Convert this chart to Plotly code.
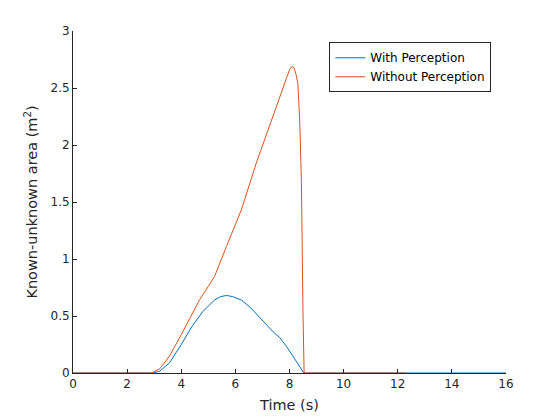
import plotly.graph_objects as go

# ==================== 데이터 ====================
time_with = [0, 2.95, 3.2, 3.57, 4.0, 4.4, 4.8, 5.23, 5.45, 5.67, 5.9, 6.22, 6.53, 6.85, 7.14, 7.4, 7.64, 7.9, 8.13, 8.35, 8.53, 16]
area_with = [0, 0, 0.015, 0.09, 0.25, 0.41, 0.54, 0.64, 0.67, 0.68, 0.67, 0.64, 0.58, 0.5, 0.42, 0.36, 0.31, 0.23, 0.146, 0.07, 0, 0]

time_without = [0, 2.89, 3.2, 3.57, 4.0, 4.35, 4.68, 5.0, 5.23, 5.67, 6.22, 6.77, 7.39, 7.88, 8.0, 8.09, 8.16, 8.23, 8.31, 8.38, 8.44, 8.5, 8.54, 12.3]
area_without = [0, 0, 0.035, 0.15, 0.336, 0.49, 0.643, 0.76, 0.847, 1.11, 1.43, 1.84, 2.25, 2.59, 2.66, 2.69, 2.68, 2.63, 2.54, 2.2, 1.67, 0.5, 0, 0]

COLORS = {'BLUE': '#0072BD', 'ORANGE': '#D95319', 'AXIS': '#262626'}
FONT = 'DejaVu Sans'

# ==================== 차트 ====================
fig = go.Figure()
fig.add_trace(go.Scatter(x=time_with, y=area_with, mode='lines', name='With Perception',
                         line=dict(color=COLORS['BLUE'], width=1)))
fig.add_trace(go.Scatter(x=time_without, y=area_without, mode='lines', name='Without Perception',
                         line=dict(color=COLORS['ORANGE'], width=1)))

axis_common = dict(showgrid=False, zeroline=False, showline=True, linecolor=COLORS['AXIS'], linewidth=1,
                   ticks='inside', ticklen=4, tickcolor=COLORS['AXIS'],
                   tickfont=dict(family=FONT, size=12, color=COLORS['AXIS']))

# 페이지 body 여백(8px) 만큼 보정
fig.update_layout(
    width=560, height=420,
    margin=dict(l=65, r=62, t=23, b=55),
    paper_bgcolor='white', plot_bgcolor='white',
    font=dict(family=FONT, color=COLORS['AXIS']),
    xaxis=dict(range=[0, 16], tickvals=list(range(0, 17, 2)),
               title=dict(text='Time (s)', font=dict(family=FONT, size=14.5), standoff=9), **axis_common),
    yaxis=dict(range=[0, 3], tickvals=[0, 0.5, 1, 1.5, 2, 2.5, 3],
               ticktext=['0', '0.5', '1', '1.5', '2', '2.5', '3'],
               title=dict(text='Known-unknown area (m<sup>2</sup>)', font=dict(family=FONT, size=14.5), standoff=9),
               **axis_common),
    legend=dict(x=0.592, y=0.967, xanchor='left', yanchor='top',
                bordercolor=COLORS['AXIS'], borderwidth=1, bgcolor='white',
                font=dict(family=FONT, size=12, color='black'),
                tracegroupgap=0, itemwidth=30),
    showlegend=True,
)

fig.write_html("out.html")
